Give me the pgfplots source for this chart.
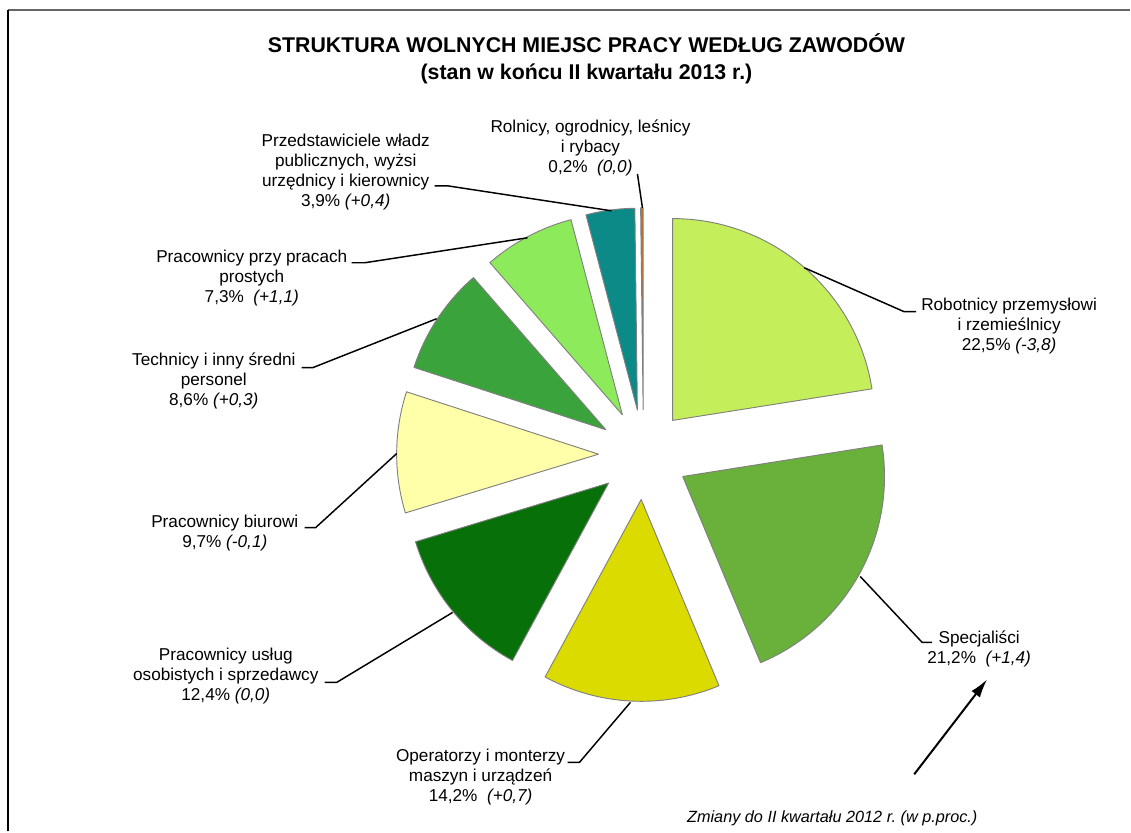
\documentclass[border=0pt]{standalone}
\usepackage{pgfplots}
\pgfplotsset{compat=1.18}
\usepackage{fontspec}
\setmainfont{Liberation Sans}
\usetikzlibrary{arrows.meta}
\definecolor{cRob}{HTML}{C5EF5A}
\definecolor{cSpe}{HTML}{69B13A}
\definecolor{cOpe}{HTML}{DCDB00}
\definecolor{cUsl}{HTML}{077009}
\definecolor{cBiu}{HTML}{FFFFAA}
\definecolor{cTec}{HTML}{3BA33B}
\definecolor{cPro}{HTML}{8DEA5B}
\definecolor{cPrz}{HTML}{0C8A87}
\definecolor{cRol}{HTML}{D2691E}
\def\cumul{0}
% #1 colour, #2 share in per cent
\newcommand\pieslice[2]{%
  \pgfmathsetmacro\sA{90-3.6*\cumul}%
  \pgfmathsetmacro\eA{90-3.6*(\cumul+#2)}%
  \pgfmathsetmacro\mA{(\sA+\eA)/2}%
  \pgfmathsetmacro\ax{644+45*cos(\mA)}%
  \pgfmathsetmacro\ay{377+45*sin(\mA)}%
  \filldraw[fill=#1, draw=black!50, line width=0.7pt, line join=round]
    (axis cs:\ax,\ay) -- ++(\sA:151.5pt) arc[start angle=\sA, end angle=\eA, radius=151.5pt] -- cycle;%
  \pgfmathsetmacro\newcum{\cumul+#2}%
  \global\let\cumul\newcum
}
\newcommand\lab{\fontsize{12.9pt}{15pt}\selectfont}
\tikzset{lbl/.style={font=\lab, align=center, inner sep=0pt}}
\frenchspacing
\begin{document}
\begin{tikzpicture}
\begin{axis}[x=0.75pt, y=0.75pt, xmin=0, xmax=1131, ymin=0, ymax=832,
  hide axis, clip=false]
\path (axis cs:0,0) rectangle (axis cs:1131,832);
% frame
\addplot[black!60, line width=1.5pt, mark=none] coordinates {(8,821.5) (1131,821.5)};
\addplot[black, line width=1.5pt, mark=none] coordinates {(8,0) (8,822)};
% slices
\pgfplotsextra{%
  \pieslice{cRob}{22.5}%
  \pieslice{cSpe}{21.2}%
  \pieslice{cOpe}{14.2}%
  \pieslice{cUsl}{12.4}%
  \pieslice{cBiu}{9.7}%
  \pieslice{cTec}{8.6}%
  \pieslice{cPro}{7.3}%
  \pieslice{cPrz}{3.9}%
  \pieslice{cRol}{0.2}%
}
% leader lines
\addplot[black, line width=1.1pt, mark=none] coordinates {(638,658) (643,624)};
\addplot[black, line width=1.1pt, mark=none] coordinates {(435,646) (448,646) (612,621)};
\addplot[black, line width=1.1pt, mark=none] coordinates {(352,569) (365,569) (528,594)};
\addplot[black, line width=1.1pt, mark=none] coordinates {(302,464) (313,464) (437,513)};
\addplot[black, line width=1.1pt, mark=none] coordinates {(305,304) (316,304) (397,378)};
\addplot[black, line width=1.1pt, mark=none] coordinates {(325,149) (337,149) (453,219)};
\addplot[black, line width=1.1pt, mark=none] coordinates {(568,69) (580,69) (631,129)};
\addplot[black, line width=1.1pt, mark=none] coordinates {(861,255) (923,189) (933,189)};
\addplot[black, line width=1.1pt, mark=none] coordinates {(805,564) (905,520) (917,520)};
% arrow
\addplot[black, line width=1.5pt, mark=none, -{Latex[length=14pt,width=8pt]}] coordinates {(915,57) (988,152)};
% title
\node[align=center, inner sep=0pt, font=\fontsize{16pt}{20.25pt}\selectfont\bfseries] at (axis cs:587,773.5)
  {STRUKTURA WOLNYCH MIEJSC PRACY WEDŁUG ZAWODÓW\\(stan w końcu II kwartału 2013 r.)};
% labels
\node[lbl] at (axis cs:591,684) {Rolnicy, ogrodnicy, leśnicy\\i rybacy\\0,2\%~~\textit{(0,0)}};
\node[lbl] at (axis cs:346,660) {Przedstawiciele władz\\publicznych, wyżsi\\urzędnicy i kierownicy\\3,9\% \textit{(+0,4)}};
\node[lbl] at (axis cs:252,554) {Pracownicy przy pracach\\prostych\\7,3\%~~\textit{(+1,1)}};
\node[lbl] at (axis cs:214,451) {Technicy i inny średni\\personel\\8,6\% \textit{(+0,3)}};
\node[lbl] at (axis cs:225,298) {Pracownicy biurowi\\9,7\% \textit{(-0,1)}};
\node[lbl] at (axis cs:226,155) {Pracownicy usług\\osobistych i sprzedawcy\\12,4\% \textit{(0,0)}};
\node[lbl] at (axis cs:481,54) {Operatorzy i monterzy\\maszyn i urządzeń\\14,2\%~~\textit{(+0,7)}};
\node[lbl] at (axis cs:980,182) {Specjaliści\\21,2\%~~\textit{(+1,4)}};
\node[lbl] at (axis cs:1010,506) {Robotnicy przemysłowi\\i rzemieślnicy\\22,5\% \textit{(-3,8)}};
\node[inner sep=0pt, font=\fontsize{12.2pt}{14pt}\selectfont\itshape] at (axis cs:833,13) {Zmiany do II kwartału 2012 r. (w p.proc.)};
\end{axis}
\end{tikzpicture}
\end{document}
